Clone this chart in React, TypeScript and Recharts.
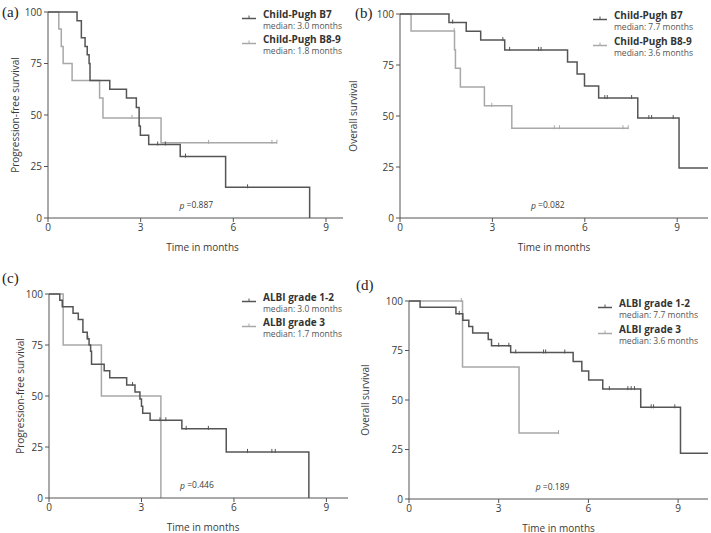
import React from 'react';
import { ComposedChart, Line, Scatter, XAxis, YAxis, Legend, ReferenceDot } from 'recharts';

const DARK = '#555555';
const LIGHT = '#a8a8a8';
const AXIS = '#555555';
const TEXT = '#3a3a3a';
const FONT = '"Open Sans", sans-serif';

const xTicks = [0, 3, 6, 9];
const yTicks = [0, 25, 50, 75, 100];
const xLabel = 'Time in months';

// Panel (a): PFS by Child-Pugh
const aDarkName = 'Child-Pugh B7';
const aDarkMedian = 'median: 3.0 months';
const aDarkTimes = [0, 0.94, 1.08, 1.2, 1.27, 1.33, 1.36, 2.0, 2.54, 2.86, 2.95, 2.99, 3.26, 4.28, 5.75, 8.47];
const aDarkSurv = [100, 95.8, 87.5, 83.3, 79.2, 75, 66.7, 62.5, 58.3, 53.6, 44.6, 40.2, 35.7, 29.8, 14.9, 0];
const aDarkCens = [3.55, 3.8, 4.45, 6.46];
const aLightName = 'Child-Pugh B8-9';
const aLightMedian = 'median: 1.8 months';
const aLightTimes = [0, 0.35, 0.43, 0.49, 0.78, 1.67, 1.78, 3.66, 7.41];
const aLightSurv = [100, 91.7, 83.3, 75, 66.7, 58.3, 48.6, 36.5, 36.5];
const aLightCens = [2.72, 5.2, 7.25, 7.41];
const aP = '0.887';

// Panel (b): OS by Child-Pugh
const bDarkName = 'Child-Pugh B7';
const bDarkMedian = 'median: 7.7 months';
const bDarkTimes = [0, 1.59, 2.15, 2.62, 3.4, 5.44, 5.75, 5.99, 6.45, 7.72, 9.06, 10];
const bDarkSurv = [100, 95.8, 91.6, 87.2, 82.4, 76.5, 70.6, 64.7, 58.8, 49.0, 24.5, 24.5];
const bDarkCens = [1.71, 3.34, 3.56, 4.5, 4.58, 6.65, 6.73, 7.52, 8.08, 8.17, 8.87];
const bLightName = 'Child-Pugh B8-9';
const bLightMedian = 'median: 3.6 months';
const bLightTimes = [0, 0.36, 1.77, 1.8, 1.96, 2.74, 3.63, 7.41];
const bLightSurv = [100, 91.7, 82.5, 73.4, 64.2, 55.0, 44.0, 44.0];
const bLightCens = [1.76, 2.98, 5.01, 5.18, 7.24, 7.41];
const bP = '0.082';

// Panel (c): PFS by ALBI
const cDarkName = 'ALBI grade 1-2';
const cDarkMedian = 'median: 3.0 months';
const cDarkTimes = [0, 0.35, 0.43, 0.78, 0.95, 1.1, 1.24, 1.3, 1.35, 1.38, 1.79, 1.97, 2.52, 2.79, 2.95, 3.0, 3.04, 3.28, 4.31, 5.75, 8.43];
const cDarkSurv = [100, 96.9, 93.8, 90.6, 87.5, 81.2, 78.1, 75, 71.9, 65.6, 62.4, 58.9, 55.4, 51.9, 48.5, 45, 41.6, 38.1, 33.9, 22.6, 0];
const cDarkCens = [1.26, 2.71, 3.6, 3.79, 4.45, 5.17, 6.44, 7.23, 7.34];
const cLightName = 'ALBI grade 3';
const cLightMedian = 'median: 1.7 months';
const cLightTimes = [0, 0.46, 1.7, 3.63];
const cLightSurv = [100, 75, 50, 0];
const cLightCens: number[] = [];
const cP = '0.446';

// Panel (d): OS by ALBI
const dDarkName = 'ALBI grade 1-2';
const dDarkMedian = 'median: 7.7 months';
const dDarkTimes = [0, 0.37, 1.57, 1.8, 2.0, 2.13, 2.65, 2.76, 3.4, 5.49, 5.78, 6.01, 6.48, 7.75, 9.08, 10];
const dDarkSurv = [100, 96.8, 93.5, 90.3, 87.1, 83.9, 80.6, 77.4, 74.0, 69.4, 64.7, 60.1, 55.5, 46.3, 23.1, 23.1];
const dDarkCens = [1.68, 3.0, 3.34, 3.57, 4.5, 4.57, 5.21, 6.7, 7.32, 7.43, 7.54, 8.1, 8.18, 8.89];
const dLightName = 'ALBI grade 3';
const dLightMedian = 'median: 3.6 months';
const dLightTimes = [0, 1.79, 3.68, 5.0];
const dLightSurv = [100, 66.7, 33.3, 33.3];
const dLightCens = [1.75, 5.0];
const dP = '0.189';

const pfsLabel = 'Progression-free survival';
const osLabel = 'Overall survival';
const pX = 4.8;
const pY = 6.5;

type Pt = { t: number; s: number };
const toSteps = (times: number[], surv: number[]): Pt[] => times.map((t, i) => ({ t, s: surv[i] }));
const survAt = (times: number[], surv: number[], t: number) => {
  let v = surv[0];
  for (let i = 0; i < times.length; i++) if (times[i] <= t) v = surv[i];
  return v;
};
const censPts = (times: number[], surv: number[], cens: number[]): Pt[] =>
  cens.map((c) => ({ t: c, s: survAt(times, surv, c) }));

const CensorMark = (color: string) => (props: any) => {
  const { cx, cy } = props;
  if (cx == null || cy == null) return <g />;
  return <line x1={cx} x2={cx} y1={cy - 3} y2={cy + 1} stroke={color} strokeWidth={1} />;
};

type Series = { name: string; median: string; times: number[]; surv: number[]; cens: number[]; color: string };

type PanelProps = {
  left: number;
  top: number;
  width: number;
  height: number;
  margin: { top: number; right: number; bottom: number; left: number };
  yWidth: number;
  xHeight: number;
  xMax: number;
  yLabel: string;
  yLabelX: number;
  xLabelDx: number;
  tag: string;
  tagLeft: number;
  tagTop: number;
  dark: Series;
  light: Series;
  p: string;
  legendLeft: number;
  legendTop: number;
  legendGap: number;
};

const LegendBox = ({ items, gap }: { items: Series[]; gap: number }) => (
  <div style={{ position: 'relative', width: 130, height: gap * 2, fontFamily: FONT }}>
    {items.map((it, i) => (
      <React.Fragment key={it.name}>
        <svg style={{ position: 'absolute', left: 0, top: i * gap + 7 }} width={14} height={6}>
          <line x1={0} x2={14} y1={3.5} y2={3.5} stroke={it.color} strokeWidth={1.5} />
          <line x1={7} x2={7} y1={0.5} y2={3.5} stroke={it.color} strokeWidth={1} />
        </svg>
        <div
          style={{
            position: 'absolute',
            left: 21,
            top: i * gap,
            fontSize: 10,
            lineHeight: '13px',
            fontWeight: 700,
            color: '#333',
            whiteSpace: 'nowrap',
          }}
        >
          {it.name}
        </div>
        <div
          style={{
            position: 'absolute',
            left: 21,
            top: i * gap + 12,
            fontSize: 8.5,
            lineHeight: '11px',
            color: '#555',
            whiteSpace: 'nowrap',
          }}
        >
          {it.median}
        </div>
      </React.Fragment>
    ))}
  </div>
);

const Panel = (pp: PanelProps) => {
  const series = [pp.light, pp.dark];
  return (
    <div style={{ position: 'absolute', left: pp.left, top: pp.top, width: pp.width, height: pp.height }}>
      <ComposedChart width={pp.width} height={pp.height} margin={pp.margin}>
        <XAxis
          type="number"
          dataKey="t"
          domain={[0, pp.xMax]}
          ticks={xTicks}
          allowDataOverflow
          height={pp.xHeight}
          stroke={AXIS}
          tickSize={4}
          tickMargin={2}
          tick={{ fill: TEXT, fontSize: 10, fontFamily: FONT }}
          label={{
            content: (props: any) => {
              const vb = props.viewBox;
              const cx = vb.x + vb.width / 2 + pp.xLabelDx;
              const cy = vb.y + 28.5;
              return (
                <text x={cx} y={cy} textAnchor="middle" dominantBaseline="central" fontSize={10} fontFamily={FONT} fill={TEXT}>
                  {xLabel}
                </text>
              );
            },
          }}
        />
        <YAxis
          type="number"
          dataKey="s"
          domain={[0, 100]}
          ticks={yTicks}
          width={pp.yWidth}
          stroke={AXIS}
          tickSize={4}
          tickMargin={2}
          tick={{ fill: TEXT, fontSize: 10, fontFamily: FONT }}
          label={{
            content: (props: any) => {
              const vb = props.viewBox;
              const cx = vb.x + pp.yLabelX;
              const cy = vb.y + vb.height / 2;
              return (
                <text
                  x={cx}
                  y={cy}
                  transform={`rotate(-90 ${cx} ${cy})`}
                  textAnchor="middle"
                  dominantBaseline="central"
                  fontSize={10}
                  fontFamily={FONT}
                  fill={TEXT}
                >
                  {pp.yLabel}
                </text>
              );
            },
          }}
        />
        {series.map((se) => (
          <Line
            key={'l' + se.name}
            data={toSteps(se.times, se.surv)}
            dataKey="s"
            type="stepAfter"
            stroke={se.color}
            strokeWidth={1.5}
            dot={false}
            activeDot={false}
            isAnimationActive={false}
            legendType="none"
          />
        ))}
        {series.map((se) => (
          <Scatter
            key={'c' + se.name}
            data={censPts(se.times, se.surv, se.cens)}
            dataKey="s"
            shape={CensorMark(se.color)}
            isAnimationActive={false}
            legendType="none"
          />
        ))}
        <ReferenceDot
          x={pX}
          y={pY}
          r={0}
          fill="none"
          stroke="none"
          label={{
            content: (props: any) => {
              const vb = props.viewBox;
              const cx = vb.x + (vb.width || 0) / 2;
              const cy = vb.y + (vb.height || 0) / 2;
              return (
                <text x={cx} y={cy} textAnchor="middle" dominantBaseline="central" fontSize={8.5} fontFamily={FONT} fill={TEXT}>
                  <tspan fontStyle="italic">p</tspan> =
                  {pp.p}
                </text>
              );
            },
          }}
        />
        <Legend
          layout="horizontal"
          align="center"
          verticalAlign="middle"
          wrapperStyle={{ left: pp.legendLeft, top: pp.legendTop, width: 130, right: 'auto', bottom: 'auto' }}
          content={() => <LegendBox items={[pp.dark, pp.light]} gap={pp.legendGap} />}
        />
      </ComposedChart>
      <div
        style={{
          position: 'absolute',
          left: pp.tagLeft,
          top: pp.tagTop,
          fontFamily: '"Liberation Serif", serif',
          fontSize: 15,
          lineHeight: '16px',
          color: '#222',
        }}
      >
        {pp.tag}
      </div>
    </div>
  );
};

const mk = (name: string, median: string, times: number[], surv: number[], cens: number[], color: string): Series => ({
  name,
  median,
  times,
  surv,
  cens,
  color,
});

export default function App() {
  return (
    <div style={{ position: 'absolute', left: 0, top: 0, width: 711, height: 533, background: '#fff', overflow: 'hidden' }}>
      <Panel
        left={0}
        top={0}
        width={355}
        height={260}
        margin={{ top: 12, right: 12, bottom: 7, left: 0 }}
        yWidth={48}
        xHeight={35}
        xMax={9.55}
        yLabel={pfsLabel}
        yLabelX={15}
        xLabelDx={7}
        tag="(a)"
        tagLeft={2}
        tagTop={4}
        dark={mk(aDarkName, aDarkMedian, aDarkTimes, aDarkSurv, aDarkCens, DARK)}
        light={mk(aLightName, aLightMedian, aLightTimes, aLightSurv, aLightCens, LIGHT)}
        p={aP}
        legendLeft={242}
        legendTop={8}
        legendGap={24.6}
      />
      <Panel
        left={340}
        top={0}
        width={371}
        height={260}
        margin={{ top: 14, right: 3, bottom: 7, left: 0 }}
        yWidth={60}
        xHeight={35}
        xMax={10}
        yLabel={osLabel}
        yLabelX={13}
        xLabelDx={0}
        tag="(b)"
        tagLeft={15}
        tagTop={5}
        dark={mk(bDarkName, bDarkMedian, bDarkTimes, bDarkSurv, bDarkCens, DARK)}
        light={mk(bLightName, bLightMedian, bLightTimes, bLightSurv, bLightCens, LIGHT)}
        p={bP}
        legendLeft={253}
        legendTop={9}
        legendGap={26}
      />
      <Panel
        left={0}
        top={260}
        width={355}
        height={273}
        margin={{ top: 34, right: 7, bottom: 0, left: 0 }}
        yWidth={49}
        xHeight={35}
        xMax={9.7}
        yLabel={pfsLabel}
        yLabelX={20}
        xLabelDx={4.6}
        tag="(c)"
        tagLeft={2}
        tagTop={10}
        dark={mk(cDarkName, cDarkMedian, cDarkTimes, cDarkSurv, cDarkCens, DARK)}
        light={mk(cLightName, cLightMedian, cLightTimes, cLightSurv, cLightCens, LIGHT)}
        p={cP}
        legendLeft={242}
        legendTop={31}
        legendGap={25}
      />
      <Panel
        left={355}
        top={260}
        width={356}
        height={273}
        margin={{ top: 41, right: 3, bottom: 0, left: 0 }}
        yWidth={54}
        xHeight={34}
        xMax={10}
        yLabel={osLabel}
        yLabelX={10}
        xLabelDx={0}
        tag="(d)"
        tagLeft={1}
        tagTop={17}
        dark={mk(dDarkName, dDarkMedian, dDarkTimes, dDarkSurv, dDarkCens, DARK)}
        light={mk(dLightName, dLightMedian, dLightTimes, dLightSurv, dLightCens, LIGHT)}
        p={dP}
        legendLeft={243}
        legendTop={37}
        legendGap={25.7}
      />
    </div>
  );
}
